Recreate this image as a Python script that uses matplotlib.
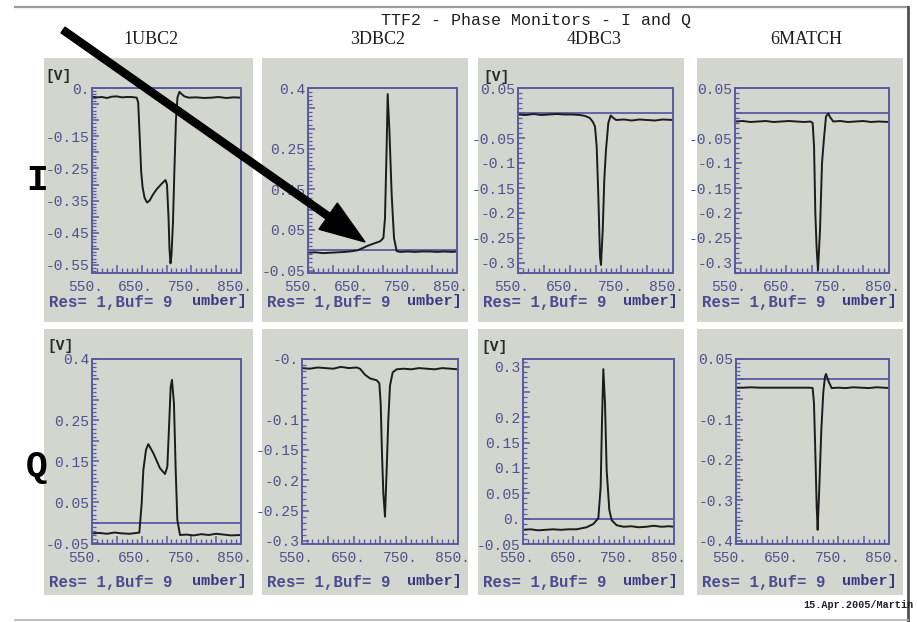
import matplotlib
matplotlib.use("Agg")
import matplotlib.pyplot as plt
import matplotlib.transforms as mtransforms
from matplotlib.patches import Rectangle, FancyArrow
from matplotlib.ticker import MultipleLocator

# ---------------- texts ----------------
title = "TTF2 - Phase Monitors - I and Q"
monitors = ["1UBC2", "3DBC2", "4DBC3", "6MATCH"]
row_names = ["I", "Q"]
footer = "15.Apr.2005/Martin"
unit_label = "[V]"
buffer_label = "Res= 1,Buf= 9"
axis_label_tail = "umber]"
x_tick_values = [550, 650, 750, 850]
x_tick_labels = ["550.", "650.", "750.", "850."]

# ---------------- data (sample number, volts) ----------------
i_1ubc2_x = [550, 560, 570, 580, 590, 600, 610, 620, 630, 640, 643, 646, 649, 652, 656, 661, 666, 672,
             680, 690, 698, 701, 704, 706, 708, 710, 713, 716, 719, 722, 726, 730, 736, 745, 760, 775,
             790, 805, 820, 835, 850]
i_1ubc2_v = [-0.027, -0.029, -0.028, -0.031, -0.027, -0.026, -0.029, -0.028, -0.028, -0.030, -0.045,
             -0.15, -0.26, -0.31, -0.342, -0.356, -0.350, -0.333, -0.315, -0.298, -0.286, -0.30, -0.40,
             -0.50, -0.545, -0.52, -0.42, -0.25, -0.10, -0.03, -0.012, -0.018, -0.026, -0.030, -0.029,
             -0.031, -0.030, -0.028, -0.031, -0.029, -0.030]

i_3dbc2_x = [550, 565, 580, 595, 610, 625, 640, 650, 661, 670, 681, 695, 701.7, 705, 708.4, 710.4, 713.8,
             718.5, 723.2, 728.5, 735, 750, 765, 780, 795, 810, 825, 840, 850]
i_3dbc2_v = [-0.006, -0.005, -0.007, -0.006, -0.005, -0.004, -0.002, 0.000, 0.006, 0.011, 0.016, 0.022,
             0.030, 0.079, 0.257, 0.385, 0.298, 0.136, 0.030, -0.002, -0.004, -0.003, -0.004, -0.003,
             -0.003, -0.004, -0.003, -0.004, -0.003]

i_4dbc3_x = [550, 565, 580, 595, 610, 625, 640, 655, 670, 680, 689, 695, 699, 702.3, 705.5, 708.7, 710.6,
             714, 717, 720.3, 724.8, 729.4, 734.5, 740, 755, 770, 785, 800, 815, 830, 850]
i_4dbc3_v = [-0.003, -0.004, -0.002, -0.004, -0.003, -0.002, -0.003, -0.003, -0.004, -0.006, -0.010,
             -0.018, -0.027, -0.067, -0.167, -0.287, -0.304, -0.234, -0.134, -0.074, -0.020, -0.005,
             -0.010, -0.014, -0.013, -0.015, -0.013, -0.014, -0.015, -0.013, -0.014]

i_6match_x = [550, 565, 580, 595, 610, 625, 640, 655, 670, 685, 697, 701.3, 704, 706.5, 709, 711.7, 715.6,
              719.5, 723.4, 727.3, 731.8, 735, 741.5, 755, 770, 785, 800, 815, 830, 850]
i_6match_v = [-0.017, -0.016, -0.018, -0.017, -0.016, -0.018, -0.017, -0.016, -0.017, -0.018, -0.017,
              -0.020, -0.067, -0.200, -0.270, -0.315, -0.234, -0.100, -0.050, -0.007, -0.001, -0.008,
              -0.017, -0.016, -0.018, -0.017, -0.016, -0.018, -0.017, -0.018]

q_1ubc2_x = [550, 565, 580, 595, 610, 625, 640, 645.3, 650, 653.4, 658.7, 663.4, 673.5, 686.9, 697, 701.7,
             705.7, 708.4, 711, 715, 718.5, 721.8, 727.2, 740, 755, 770, 785, 800, 815, 830, 850]
q_1ubc2_v = [-0.026, -0.025, -0.027, -0.024, -0.026, -0.027, -0.025, -0.024, 0.047, 0.129, 0.178, 0.192,
             0.170, 0.133, 0.119, 0.137, 0.251, 0.332, 0.349, 0.292, 0.129, 0.007, -0.030, -0.029,
             -0.031, -0.028, -0.030, -0.027, -0.029, -0.031, -0.030]

q_3dbc2_x = [550, 565, 580, 595, 610, 625, 640, 655, 661.5, 671.2, 680.8, 693.6, 698.7, 701.3, 703.8,
             706.4, 709.6, 712.8, 716, 719.2, 724.4, 732, 745, 760, 775, 790, 805, 820, 835, 850]
q_3dbc2_v = [-0.015, -0.016, -0.014, -0.015, -0.016, -0.013, -0.015, -0.014, -0.016, -0.026, -0.032,
             -0.035, -0.040, -0.073, -0.155, -0.221, -0.260, -0.183, -0.100, -0.044, -0.022, -0.017,
             -0.016, -0.017, -0.015, -0.016, -0.017, -0.015, -0.016, -0.017]

q_4dbc3_x = [550, 565, 580, 595, 610, 625, 640, 656.6, 676.5, 689.7, 699.7, 704.3, 707, 709.6, 712.9,
             716.2, 721.5, 726.2, 736.1, 750, 765, 780, 795, 810, 825, 840, 850]
q_4dbc3_v = [-0.022, -0.021, -0.023, -0.022, -0.021, -0.022, -0.021, -0.021, -0.017, -0.0105, 0.001,
             0.063, 0.195, 0.295, 0.228, 0.096, 0.017, -0.003, -0.013, -0.016, -0.015, -0.017, -0.016,
             -0.014, -0.016, -0.015, -0.016]

q_6match_x = [550, 565, 580, 595, 610, 625, 640, 655, 670, 685, 695, 700.3, 702.9, 705.6, 708.2, 710.1,
              713.4, 717.3, 721.2, 724.5, 726.5, 731, 737.6, 750, 765, 780, 795, 810, 825, 840, 850]
q_6match_v = [-0.021, -0.021, -0.020, -0.021, -0.021, -0.021, -0.021, -0.021, -0.021, -0.021, -0.021,
              -0.022, -0.060, -0.183, -0.316, -0.373, -0.266, -0.126, -0.032, 0.006, 0.013, -0.004,
              -0.022, -0.021, -0.022, -0.020, -0.021, -0.022, -0.020, -0.021, -0.022]

# ---------------- y ticks per panel ----------------
i_1ubc2_yt = [0.0, -0.05, -0.1, -0.15, -0.2, -0.25, -0.3, -0.35, -0.4, -0.45, -0.5, -0.55]
i_1ubc2_yl = ["0.", "", "", "-0.15", "", "-0.25", "", "-0.35", "", "-0.45", "", "-0.55"]
i_3dbc2_yt = [0.4, 0.35, 0.3, 0.25, 0.2, 0.15, 0.1, 0.05, 0.0, -0.05]
i_3dbc2_yl = ["0.4", "", "", "0.25", "", "0.15", "", "0.05", "", "-0.05"]
i_4dbc3_yt = [0.05, 0.0, -0.05, -0.1, -0.15, -0.2, -0.25, -0.3]
i_4dbc3_yl = ["0.05", "", "-0.05", "-0.1", "-0.15", "-0.2", "-0.25", "-0.3"]
i_6match_yt = [0.05, 0.0, -0.05, -0.1, -0.15, -0.2, -0.25, -0.3]
i_6match_yl = ["0.05", "", "-0.05", "-0.1", "-0.15", "-0.2", "-0.25", "-0.3"]
q_1ubc2_yt = [0.4, 0.35, 0.3, 0.25, 0.2, 0.15, 0.1, 0.05, 0.0, -0.05]
q_1ubc2_yl = ["0.4", "", "", "0.25", "", "0.15", "", "0.05", "", "-0.05"]
q_3dbc2_yt = [0.0, -0.05, -0.1, -0.15, -0.2, -0.25, -0.3]
q_3dbc2_yl = ["-0.", "", "-0.1", "-0.15", "-0.2", "-0.25", "-0.3"]
q_4dbc3_yt = [0.3, 0.25, 0.2, 0.15, 0.1, 0.05, 0.0, -0.05]
q_4dbc3_yl = ["0.3", "", "0.2", "0.15", "0.1", "0.05", "0.", "-0.05"]
q_6match_yt = [0.05, 0.0, -0.05, -0.1, -0.15, -0.2, -0.25, -0.3, -0.35, -0.4]
q_6match_yl = ["0.05", "", "", "-0.1", "", "-0.2", "", "-0.3", "", "-0.4"]

panels = [
    # row, col, x, v, ylim, yticks, ylabels
    (0, 0, i_1ubc2_x, i_1ubc2_v, (-0.575, 0.0), i_1ubc2_yt, i_1ubc2_yl),
    (0, 1, i_3dbc2_x, i_3dbc2_v, (-0.056, 0.4), i_3dbc2_yt, i_3dbc2_yl),
    (0, 2, i_4dbc3_x, i_4dbc3_v, (-0.32, 0.05), i_4dbc3_yt, i_4dbc3_yl),
    (0, 3, i_6match_x, i_6match_v, (-0.32, 0.05), i_6match_yt, i_6match_yl),
    (1, 0, q_1ubc2_x, q_1ubc2_v, (-0.052, 0.4), q_1ubc2_yt, q_1ubc2_yl),
    (1, 1, q_3dbc2_x, q_3dbc2_v, (-0.305, 0.0), q_3dbc2_yt, q_3dbc2_yl),
    (1, 2, q_4dbc3_x, q_4dbc3_v, (-0.05, 0.315), q_4dbc3_yt, q_4dbc3_yl),
    (1, 3, q_6match_x, q_6match_v, (-0.408, 0.05), q_6match_yt, q_6match_yl),
]

# ---------------- layout (pixels) ----------------
W, H = 917, 622
GRAY = "#d3d6cf"
SPINE = "#5a5aa0"
LABEL = "#50508c"
MONO = ["Liberation Mono", "DejaVu Sans Mono"]

panel_x = [(44, 253), (262, 468), (478, 684), (697, 903)]
panel_y = [(58, 322), (329, 595)]
axes_x = [[(92, 241), (308, 457), (518, 673), (735, 889)],
          [(92, 241), (302, 458), (523, 674), (736, 889)]]
axes_y = [(88, 273), (359, 544)]
res_y = [303, 583]
unit_pos = {(0, 0): (58, 76), (0, 2): (497, 77), (1, 0): (60, 346), (1, 2): (494, 347)}

fig = plt.figure(figsize=(W / 100, H / 100), dpi=100)
fig.patch.set_facecolor("white")

bg = fig.add_axes([0, 0, 1, 1], zorder=-10)
bg.set_xlim(0, W)
bg.set_ylim(H, 0)
bg.axis("off")

fg = fig.add_axes([0, 0, 1, 1], zorder=10)
fg.set_xlim(0, W)
fg.set_ylim(H, 0)
fg.axis("off")
fg.patch.set_alpha(0)

# frame lines
bg.plot([15, 908], [7, 7], color="#9a9a9a", lw=1.6)
bg.plot([908, 908], [7, 622], color="#505050", lw=2.0)
bg.plot([15, 908], [620, 620], color="#b0b0b0", lw=1.2)

# gray panels
for r in range(2):
    for c in range(4):
        x0, x1 = panel_x[c]
        y0, y1 = panel_y[r]
        bg.add_patch(Rectangle((x0, y0), x1 - x0, y1 - y0, facecolor=GRAY, edgecolor="none"))
        bg.text(x0 + 5, res_y[r], buffer_label, ha="left", va="center", color="#4a4a8e",
                fontsize=11.3, fontweight="bold", family=MONO)
        bg.text(x1 - 6, res_y[r] - 2, axis_label_tail, ha="right", va="center", color="#3a3a82",
                fontsize=11, fontweight="bold", family=MONO)

# titles
bg.text(536, 21, title, ha="center", va="center", fontsize=12, color="#1e1e1e", family=MONO)
col_centers = [151, 378, 594, 806]
for c, name in enumerate(monitors):
    bg.text(col_centers[c], 40, name, ha="center", va="center", fontsize=13, color="#1e1e1e",
            family=["Liberation Serif", "DejaVu Serif"])

ft = bg.text(803, 605, footer, ha="left", va="center", fontsize=7.3, fontweight="bold",
             color="#202020", family=MONO)
ft.set_clip_path(Rectangle((0, 0), 907, H, transform=bg.transData))

# panels
for (r, c, xs, vs, ylim, yt, yl) in panels:
    l, rr = axes_x[r][c]
    t, b = axes_y[r]
    ax = fig.add_axes([l / W, 1 - b / H, (rr - l) / W, (b - t) / H], zorder=1)
    ax.set_facecolor(GRAY)
    ax.axhline(0, color=SPINE, lw=1.3, zorder=1)
    ax.plot(xs, vs, color="#1c1c1c", lw=1.4, zorder=2)
    ax.set_xlim(550, 850)
    ax.set_ylim(*ylim)
    for s in ax.spines.values():
        s.set_color(SPINE)
        s.set_linewidth(1.4)
    ax.xaxis.set_major_locator(MultipleLocator(50))
    ax.xaxis.set_minor_locator(MultipleLocator(10))
    ax.tick_params(axis="x", which="both", direction="in", colors=SPINE, top=False,
                   labelbottom=False)
    ax.tick_params(axis="x", which="major", length=6, width=1.1)
    ax.tick_params(axis="x", which="minor", length=3.5, width=1.0)
    ax.set_yticks(yt, yl)
    ax.yaxis.set_minor_locator(MultipleLocator(0.01))
    ax.tick_params(axis="y", which="both", direction="in", color=SPINE, right=False,
                   labelcolor=LABEL, labelsize=10.5, pad=2, labelfontfamily=MONO)
    ax.tick_params(axis="y", which="major", length=5, width=1.1)
    ax.tick_params(axis="y", which="minor", length=3, width=0.9)
    off = mtransforms.ScaledTranslation(-0.06, -0.07, fig.dpi_scale_trans)
    for v, s in zip(x_tick_values, x_tick_labels):
        ax.text(v, 0, s, transform=ax.get_xaxis_transform() + off, ha="center", va="top",
                color=LABEL, fontsize=10.5, family=MONO, clip_on=False)
    if (r, c) in unit_pos:
        ux, uy = unit_pos[(r, c)]
        fg.text(ux, uy, unit_label, ha="center", va="center", fontsize=10.5, fontweight="bold",
                color="#2a2a2a", family=MONO)

# row names
fg.text(37, 181, row_names[0], ha="center", va="center", fontsize=26, fontweight="bold",
        color="black", family=MONO)
fg.text(37, 466, row_names[1], ha="center", va="center", fontsize=26, fontweight="bold",
        color="black", family=MONO)

# big annotation arrow
fg.add_patch(FancyArrow(63, 30, 365 - 63, 242 - 30, width=7, head_width=32, head_length=45,
                        length_includes_head=True, color="black"))

fig.savefig("out.png", dpi=100, facecolor="white")
